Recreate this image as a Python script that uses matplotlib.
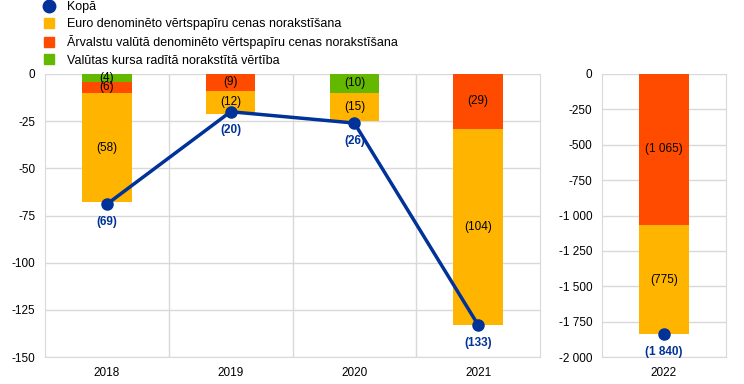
import numpy as np
import matplotlib
matplotlib.use('Agg')
import matplotlib.pyplot as plt
from matplotlib.lines import Line2D
from matplotlib.patches import Patch

plt.rcParams['font.family'] = ['Liberation Sans', 'DejaVu Sans']

# Data (EUR, negative = write-downs)
years = ['2018', '2019', '2020', '2021']
fx_valuation = [-4, 0, -10, 0]
foreign_ccy = [-6, -9, 0, -29]
euro_ccy = [-58, -12, -15, -104]
total = [-69, -20, -26, -133]

year_2022 = ['2022']
fx_valuation_2022 = [0]
foreign_ccy_2022 = [-1065]
euro_ccy_2022 = [-775]
total_2022 = [-1840]

legend_labels = ['Kopā',
                 'Euro denominēto vērtspapīru cenas norakstīšana',
                 'Ārvalstu valūtā denominēto vērtspapīru cenas norakstīšana',
                 'Valūtas kursa radītā norakstītā vērtība']

BLUE = '#003299'
YELLOW = '#FFB400'
RED = '#FF4B00'
GREEN = '#65B800'
GRID = '#d9d9d9'


def fmt_num(v):
    return '{:,}'.format(int(round(abs(v)))).replace(',', '\u00a0')


def fmt_tick(v, pos=None):
    return '{:,}'.format(int(v)).replace(',', ' ')


def draw_panel(ax, cats, fx, fc, eu, tot, connect=True):
    x = np.arange(len(cats))
    w = 0.4
    fx = np.array(fx, dtype=float)
    fc = np.array(fc, dtype=float)
    eu = np.array(eu, dtype=float)
    bottoms = [np.zeros(len(cats)), fx, fx + fc]
    series = [(fx, GREEN), (fc, RED), (eu, YELLOW)]
    for (vals, col), b in zip(series, bottoms):
        ax.bar(x, vals, w, bottom=b, color=col, zorder=2)
        for xi, v, bi in zip(x, vals, b):
            if v != 0:
                ax.text(xi, bi + v / 2, '(' + fmt_num(v) + ')', ha='center', va='center',
                        fontsize=8.5, color='black', zorder=4)
    ax.plot(x, tot, color=BLUE, lw=2.5 if connect else 0, marker='o', ms=8, zorder=3)
    for xi, t in zip(x, tot):
        ax.annotate('(' + fmt_num(t) + ')', (xi, t), xytext=(0, -13), textcoords='offset points',
                    ha='center', va='center', fontsize=8.5, color=BLUE, fontweight='bold', zorder=4)
    ax.set_xticks(x)
    ax.set_xticklabels(cats)
    ax.set_xlim(-0.5, len(cats) - 0.5)
    ax.set_xticks(np.arange(len(cats) - 1) + 0.5, minor=True)
    ax.grid(axis='x', which='minor', color=GRID, lw=1, zorder=0)
    ax.grid(axis='y', which='major', color=GRID, lw=1, zorder=0)
    ax.tick_params(axis='both', which='both', length=0, labelsize=8.5, pad=7)
    ax.yaxis.set_major_formatter(plt.FuncFormatter(fmt_tick))
    for sp in ax.spines.values():
        sp.set_color(GRID)
    ax.spines['top'].set_visible(False)


fig = plt.figure(figsize=(7.44, 3.84), dpi=100)
ax1 = fig.add_axes([0.0605, 0.0703, 0.6653, 0.737])
ax2 = fig.add_axes([0.809, 0.0703, 0.1667, 0.737])

draw_panel(ax1, years, fx_valuation, foreign_ccy, euro_ccy, total)
ax1.set_ylim(-150, 0)
ax1.set_yticks(np.arange(-150, 1, 25))

draw_panel(ax2, year_2022, fx_valuation_2022, foreign_ccy_2022, euro_ccy_2022, total_2022, connect=False)
ax2.set_ylim(-2000, 0)
ax2.set_yticks(np.arange(-2000, 1, 250))

handles = [Line2D([], [], color=BLUE, marker='o', lw=0, ms=9),
           Patch(color=YELLOW), Patch(color=RED), Patch(color=GREEN)]
fig.legend(handles, legend_labels, loc='upper left', bbox_to_anchor=(0.058, 1.0),
           frameon=False, fontsize=9, handlelength=0.8, handleheight=0.8,
           handletextpad=1.0, labelspacing=0.4, borderaxespad=0, borderpad=0.1)

fig.savefig('out.png', dpi=100)
